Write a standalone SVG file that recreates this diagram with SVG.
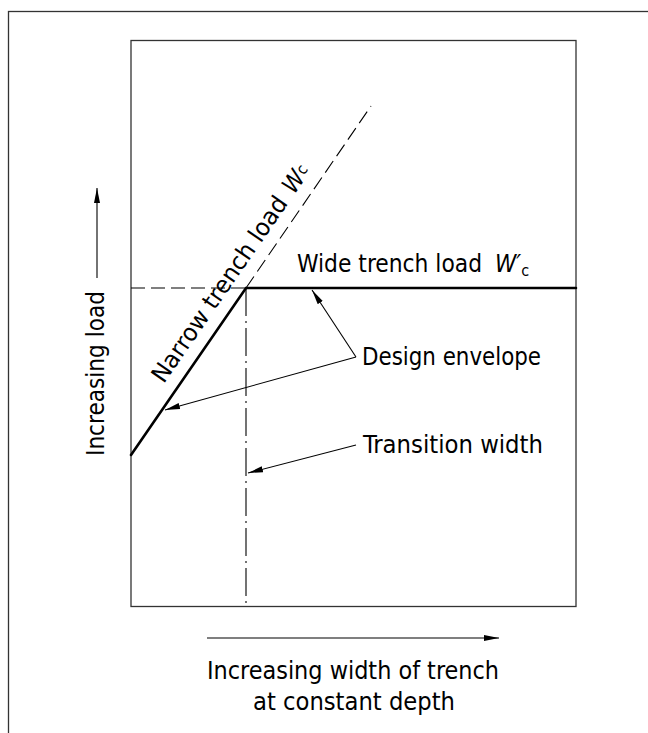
<svg xmlns="http://www.w3.org/2000/svg" width="648" height="733" viewBox="0 0 648 733">
<style>
.frame{fill:none;stroke:#333;stroke-width:1.3}
.thick{fill:none;stroke:#000;stroke-width:2.6;stroke-linecap:round}
.thin{fill:none;stroke:#000;stroke-width:1.1}
.dash{fill:none;stroke:#000;stroke-width:1.1;stroke-dasharray:14 6}
.dashdot{fill:none;stroke:#000;stroke-width:1.1;stroke-dasharray:28 5 2 5}
text{font-family:"DejaVu Sans ExtraLight","DejaVu Sans Condensed","DejaVu Sans",sans-serif;font-size:24px;fill:#000}
.it{font-style:italic}
</style>
<defs>
<marker id="ah" markerWidth="16" markerHeight="8" refX="15" refY="4" orient="auto" markerUnits="userSpaceOnUse">
<path d="M0,1 L15,4 L0,7 Z" fill="#000"/>
</marker>
</defs>
<rect x="8.5" y="11.5" width="700" height="760" class="frame"/>
<g id="plot">
<rect x="131" y="40.5" width="445" height="566" class="frame"/>
</g>
<g id="guides">
<line x1="131" y1="288" x2="246" y2="288" class="dash"/>
<line x1="246" y1="288" x2="371" y2="106" class="dash"/>
<line x1="246" y1="288" x2="246" y2="607" class="dashdot"/>
</g>
<g id="envelope">
<polyline points="131,455 246,288 576,288" class="thick"/>
</g>
<g id="connectors">
<line x1="356" y1="357" x2="312" y2="290" class="thin" marker-end="url(#ah)"/>
<line x1="356" y1="357" x2="165" y2="410" class="thin" marker-end="url(#ah)"/>
<line x1="356" y1="445" x2="248" y2="473" class="thin" marker-end="url(#ah)"/>
<line x1="97" y1="278" x2="97" y2="188" class="thin" marker-end="url(#ah)"/>
<line x1="207" y1="638" x2="499" y2="638" class="thin" marker-end="url(#ah)"/>
</g>
<g id="label-wide">
<text x="297" y="272" textLength="185" lengthAdjust="spacingAndGlyphs">Wide trench load</text>
<text x="495" y="272" class="it">W′<tspan font-style="normal" font-size="16" dy="4">c</tspan></text>
</g>
<g id="label-narrow">
<g transform="translate(246,288) rotate(-55.4)">
<text x="-126" y="-13" textLength="220" lengthAdjust="spacingAndGlyphs">Narrow trench load</text>
<text x="104" y="-13" class="it">W<tspan font-style="normal" font-size="16" dy="-3">c</tspan></text>
</g>
</g>
<g id="label-design">
<text x="362" y="365" textLength="179" lengthAdjust="spacingAndGlyphs">Design envelope</text>
</g>
<g id="label-transition">
<text x="363" y="453" textLength="180" lengthAdjust="spacingAndGlyphs">Transition width</text>
</g>
<g id="label-y">
<text transform="translate(104,456) rotate(-90)" textLength="165" lengthAdjust="spacingAndGlyphs">Increasing load</text>
</g>
<g id="label-x">
<text x="207" y="679" textLength="292" lengthAdjust="spacingAndGlyphs">Increasing width of trench</text>
<text x="253" y="710" textLength="202" lengthAdjust="spacingAndGlyphs">at constant depth</text>
</g>
</svg>
